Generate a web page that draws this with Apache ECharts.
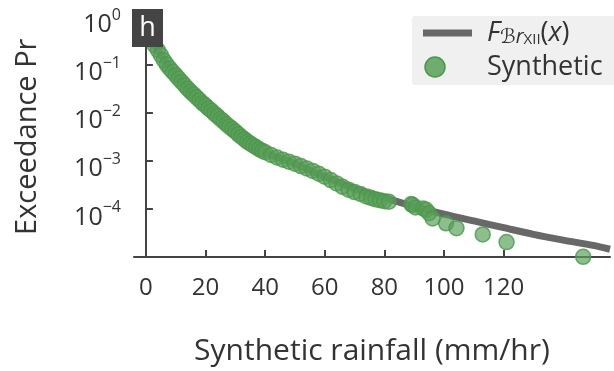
<!DOCTYPE html>
<html>
<head>
<meta charset="utf-8">
<script src="https://cdn.jsdelivr.net/npm/echarts@6/dist/echarts.min.js"></script>
<style>
  html, body { margin: 0; padding: 0; background: #fff; }
  #chart { width: 614px; height: 371px; }
</style>
</head>
<body>
<div id="chart"></div>
<script>
// Synthetic rainfall samples (mm/hr) and their empirical exceedance probability
const rainfall = [0, 1, 2, 3, 4, 5, 6, 7, 8, 9, 10, 11, 12, 13, 14, 15, 16, 17, 18, 19, 20,
  21, 22, 23, 24, 25, 26, 27, 28, 29, 30, 31, 32, 33, 34, 35, 36, 37, 38, 39, 40,
  42, 44, 46, 48, 50, 52, 54, 56, 58, 60, 62, 64, 66, 68, 70, 72, 74,
  75.5, 77, 78.5, 80, 81.5,
  89, 89.5, 90.5, 93, 94, 95, 96.2, 100.7, 104.2, 113, 121, 146.7];
const exceedance = [0.955, 0.562, 0.331, 0.251, 0.200, 0.158, 0.123, 0.100, 0.0832, 0.0708, 0.0603,
  0.0513, 0.0437, 0.0372, 0.0316, 0.0275, 0.0240, 0.0209, 0.0182, 0.0158, 0.0141,
  0.0123, 0.0110, 0.00955, 0.00851, 0.00741, 0.00661, 0.00575, 0.00513, 0.00457, 0.00407,
  0.00355, 0.00316, 0.00282, 0.00251, 0.00229, 0.00209, 0.00191, 0.00174, 0.00162, 0.00151,
  0.00132, 0.00117, 0.00105, 0.000955, 0.000871, 0.000776, 0.000692, 0.000617, 0.000537,
  0.000468, 0.000398, 0.000339, 0.000288, 0.000251, 0.000224, 0.000204, 0.000182,
  0.000170, 0.000158, 0.000151, 0.000145, 0.000141,
  0.000126, 0.000120, 0.000107, 0.000102, 0.0000955, 0.0000813, 0.0000631, 0.0000501,
  0.0000398, 0.0000295, 0.0000204, 0.0000101];

// Fitted Burr XII survival function F_BrXII(x)
const fitRainfall = [0, 2, 5, 10, 15, 20, 25, 30, 40, 50, 60, 70, 80, 90, 100, 110, 120, 130, 140, 150, 155.7];
const fitExceedance = [0.95, 0.331, 0.158, 0.0603, 0.0275, 0.0141, 0.00741, 0.00407, 0.00151, 0.000871,
  0.000468, 0.000263, 0.000170, 0.000112, 0.0000776, 0.0000562, 0.0000407, 0.0000295,
  0.0000224, 0.0000174, 0.0000145];

// Axis ticks
const xTickValues = [0, 20, 40, 60, 80, 100, 120];
const yTickValues = [1, 0.1, 0.01, 0.001, 0.0001];
const yTickExponents = ['0', '\u22121', '\u22122', '\u22123', '\u22124'];

const FONT = '"Open Sans", "DejaVu Sans", sans-serif';
const TEXT = '#333';
const AXIS = '#444';
const GREEN = 'rgba(88,160,88,0.85)';
const GREEN_EDGE = 'rgba(76,150,76,1)';
const GREY = '#686868';

const chart = echarts.init(document.getElementById('chart'), null, { renderer: 'canvas' });

function yLabel(value) {
  for (let i = 0; i < yTickValues.length; i++) {
    if (Math.abs(value / yTickValues[i] - 1) < 1e-6) {
      return '{b|10}{s|' + yTickExponents[i] + '}';
    }
  }
  return '';
}

chart.setOption({
  animation: false,
  backgroundColor: '#fff',
  grid: { left: 134, right: 4, top: 16.5, bottom: 113, containLabel: false },
  xAxis: {
    type: 'value',
    min: -4,
    max: 155.7,
    splitLine: { show: false },
    axisLine: { show: true, lineStyle: { color: AXIS, width: 2 } },
    axisTick: { show: true, inside: true, length: 7, customValues: xTickValues,
      lineStyle: { color: AXIS, width: 2 } },
    axisLabel: { customValues: xTickValues, fontSize: 24, color: TEXT, margin: 19, fontFamily: FONT },
    name: 'Synthetic rainfall (mm/hr)',
    nameLocation: 'middle',
    nameGap: 79,
    nameTextStyle: { fontSize: 30, color: TEXT, fontFamily: FONT }
  },
  yAxis: {
    type: 'log',
    logBase: 10,
    min: 1e-5,
    max: 1,
    splitLine: { show: false },
    axisLine: { show: true, lineStyle: { color: AXIS, width: 2 } },
    axisTick: { show: true, inside: true, length: 7, lineStyle: { color: AXIS, width: 2 } },
    axisLabel: {
      formatter: yLabel,
      margin: 13,
      padding: [12, 0, 0, 0],
      color: TEXT,
      fontFamily: FONT,
      rich: {
        b: { fontSize: 25, lineHeight: 30, verticalAlign: 'bottom', color: TEXT, fontFamily: FONT },
        s: { fontSize: 16, lineHeight: 16, verticalAlign: 'top', color: TEXT, fontFamily: FONT }
      }
    },
    name: 'Exceedance Pr',
    nameLocation: 'middle',
    nameGap: 92,
    nameRotate: 90,
    nameTextStyle: { fontSize: 29, color: TEXT, fontFamily: FONT }
  },
  series: [
    {
      name: 'F_BrXII(x)',
      type: 'line',
      data: fitRainfall.map((x, i) => [x, fitExceedance[i]]),
      showSymbol: false,
      symbol: 'none',
      smooth: 0.3,
      lineStyle: { color: GREY, width: 7 },
      z: 2
    },
    {
      name: 'Synthetic',
      type: 'scatter',
      data: rainfall.map((x, i) => [x, exceedance[i]]),
      symbol: 'circle',
      symbolSize: 15,
      itemStyle: { color: GREEN, borderColor: GREEN_EDGE, borderWidth: 1.5 },
      z: 3
    }
  ],
  graphic: [
    // panel letter
    { type: 'rect', z: 100, shape: { x: 132, y: 9, width: 31, height: 38 }, style: { fill: '#444' } },
    { type: 'text', z: 101, x: 147.5, y: 28,
      style: { text: 'h', fill: '#fff', font: '27px ' + FONT, textAlign: 'center', textVerticalAlign: 'middle' } },
    // legend
    { type: 'rect', z: 100, shape: { x: 412, y: 16, width: 220, height: 69, r: 3 }, style: { fill: '#f0f0f0' } },
    { type: 'line', z: 101, shape: { x1: 423, y1: 33, x2: 472, y2: 33 }, style: { stroke: GREY, lineWidth: 7 } },
    { type: 'circle', z: 101, shape: { cx: 435, cy: 67, r: 10 },
      style: { fill: GREEN, stroke: GREEN_EDGE, lineWidth: 1.5 } },
    { type: 'text', z: 101, x: 487, y: 33,
      style: {
        text: '{f|F}{sub|\u212Cr}{sc|XII}{p|(}{x|x}{p|)}',
        textVerticalAlign: 'middle',
        rich: {
          f: { fontSize: 27, fontStyle: 'italic', fontFamily: FONT, lineHeight: 28, verticalAlign: 'middle', fill: TEXT },
          sub: { fontSize: 20, fontStyle: 'italic', fontFamily: FONT, lineHeight: 18, verticalAlign: 'bottom', fill: TEXT },
          sc: { fontSize: 15, fontFamily: FONT, lineHeight: 15, verticalAlign: 'bottom', fill: TEXT },
          p: { fontSize: 27, fontFamily: FONT, lineHeight: 28, verticalAlign: 'middle', fill: TEXT },
          x: { fontSize: 27, fontStyle: 'italic', fontFamily: FONT, lineHeight: 28, verticalAlign: 'middle', fill: TEXT }
        }
      } },
    { type: 'text', z: 101, x: 487, y: 67,
      style: { text: 'Synthetic', fill: TEXT, font: '27px ' + FONT, textVerticalAlign: 'middle' } }
  ]
});
</script>
</body>
</html>
